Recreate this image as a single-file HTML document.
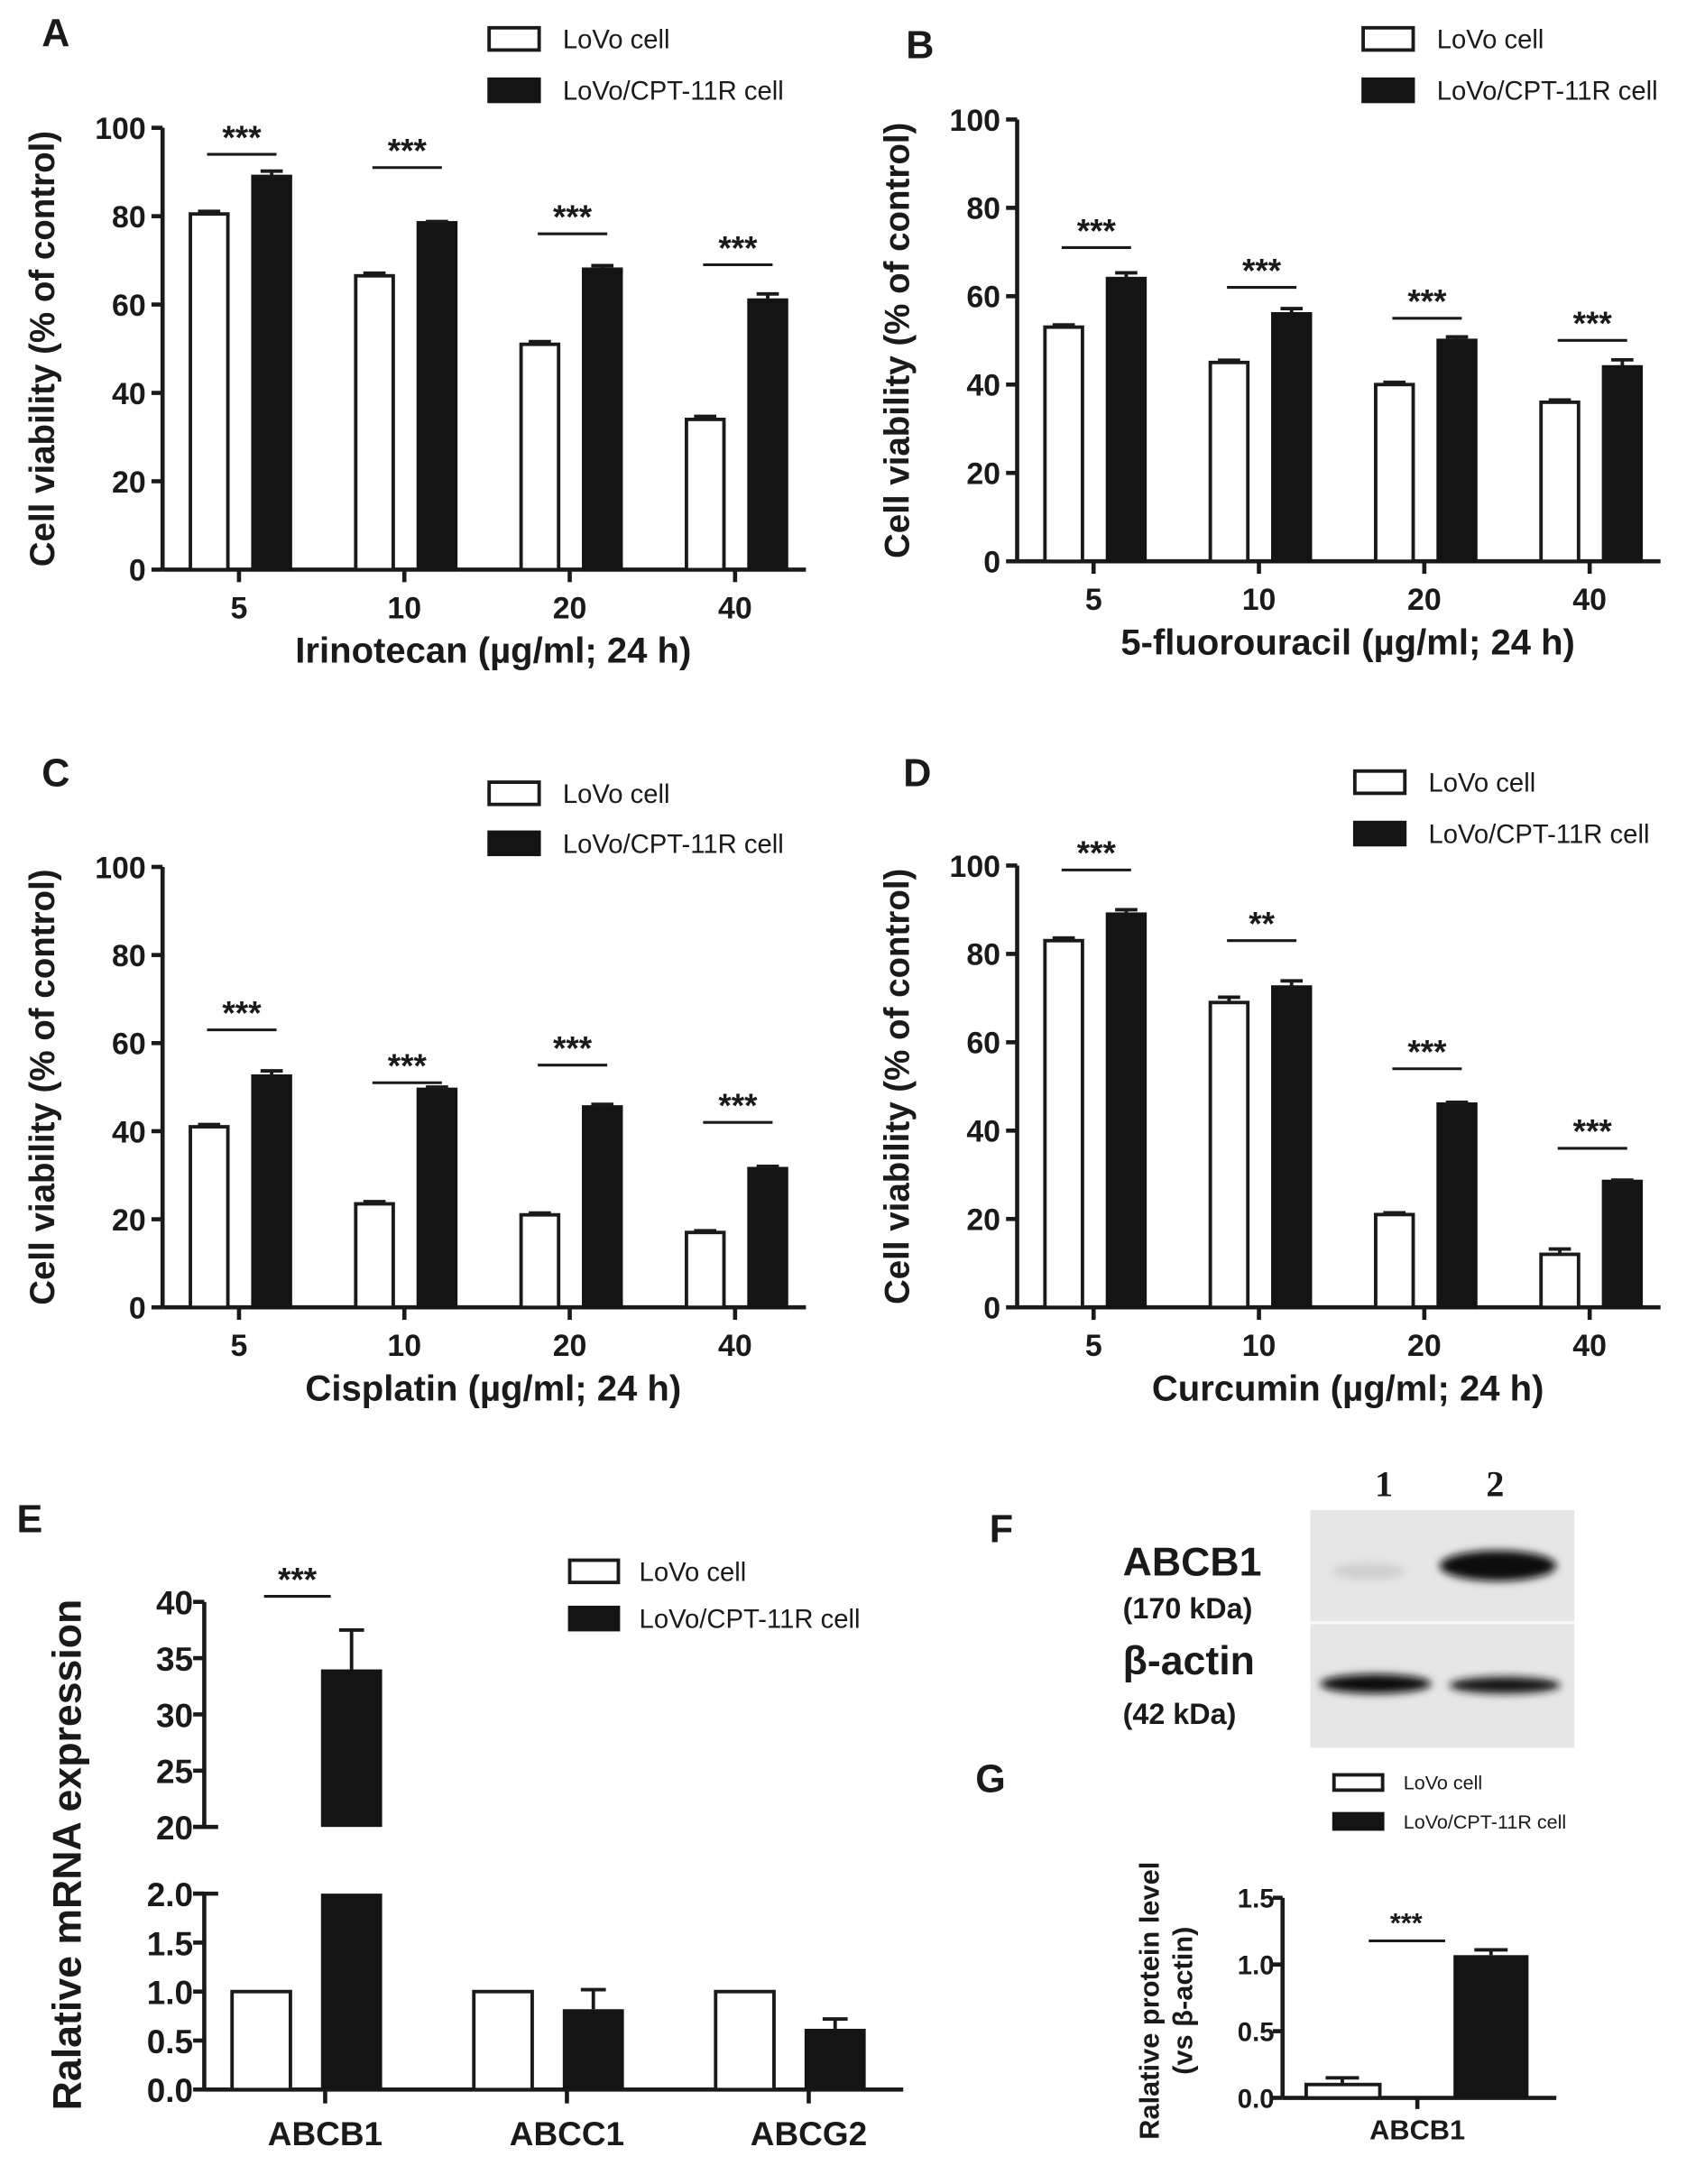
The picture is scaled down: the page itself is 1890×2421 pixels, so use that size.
<!DOCTYPE html>
<html><head><meta charset="utf-8">
<style>
html,body{margin:0;padding:0;background:#fff;}
svg{display:block;}
text{font-family:"Liberation Sans",Arial,sans-serif;fill:#1a1a1a;}
.b{font-weight:bold;}
</style></head>
<body>
<svg id="fig" xmlns="http://www.w3.org/2000/svg" width="1890" height="2421" viewBox="0 0 1227 1572" preserveAspectRatio="none">
<defs>
<filter id="blur" x="-20%" y="-50%" width="140%" height="200%"><feGaussianBlur stdDeviation="3"/></filter>
</defs>
</svg>
<script>
// ---- Data ----
const doseCats = ["5","10","20","40"];
const viabTicks = [0,20,40,60,80,100];
const aLovo = [80.5,66.5,51,34];
const aLovoErr = [0.6,0.6,0.6,0.7];
const aRes = [89,78.5,68,61];
const aResErr = [1.2,0.3,0.8,1.4];
const aSig = ["***","***","***","***"];
const aSigY = [94,91,76,69];
const bLovo = [53,45,40,36];
const bLovoErr = [0.5,0.5,0.5,0.5];
const bRes = [64,56,50,44];
const bResErr = [1.3,1.2,0.8,1.6];
const bSig = ["***","***","***","***"];
const bSigY = [71,62,55,50];
const cLovo = [41,23.5,21,17];
const cLovoErr = [0.5,0.5,0.4,0.4];
const cRes = [52.5,49.5,45.5,31.5];
const cResErr = [1.2,0.5,0.6,0.5];
const cSig = ["***","***","***","***"];
const cSigY = [63,51,55,42];
const dLovo = [83,69,21,12];
const dLovoErr = [0.6,1.2,0.4,1.2];
const dRes = [89,72.5,46,28.5];
const dResErr = [1.0,1.4,0.4,0.3];
const dSig = ["***","**","***","***"];
const dSigY = [99,83,54,36];
const eCats = ["ABCB1","ABCC1","ABCG2"];
const eLovo = [1,1,1];
const eRes = [34,0.82,0.62];
const eResErr = [3.5,0.2,0.1];
const eLowTicks = ["0.0","0.5","1.0","1.5","2.0"];
const eHighTicks = ["20","25","30","35","40"];
const gCats = ["ABCB1"];
const gLovo = [0.1];
const gLovoErr = [0.05];
const gRes = [1.07];
const gResErr = [0.04];
const gTicks = ["0.0","0.5","1.0","1.5"];

const NS = "http://www.w3.org/2000/svg";
const svg = document.getElementById('fig');
function mk(tag, attrs, parent, txt){
  const e = document.createElementNS(NS, tag);
  for (const k in attrs) e.setAttribute(k, attrs[k]);
  if (txt !== undefined) e.textContent = txt;
  (parent||svg).appendChild(e);
  return e;
}

function legend(g, x, y1, y2, bw, bh, fs, tx){
  const l1 = mk('rect',{x:x,y:y1-bh/2,width:bw,height:bh,fill:'#fff',stroke:'#1a1a1a','stroke-width':2.5},g);
  
  
  const t1 = mk('text',{x:tx,y:y1+fs*0.36,'font-size':fs},g,'LoVo cell');
  
  
  const l2 = mk('rect',{x:x,y:y2-bh/2,width:bw,height:bh,fill:'#141414',stroke:'#141414','stroke-width':2.5},g);
  
  
  const t2 = mk('text',{x:tx,y:y2+fs*0.36,'font-size':fs},g,'LoVo/CPT-11R cell');
  
  
}

function errbar(g, cx, ytop, yerr, cap){
  mk('line',{x1:cx,x2:cx,y1:ytop,y2:yerr,stroke:'#1a1a1a','stroke-width':2.5},g);
  mk('line',{x1:cx-cap,x2:cx+cap,y1:yerr,y2:yerr,stroke:'#1a1a1a','stroke-width':2.5},g);
}

function viabPanel(o){
  const g = mk('g',{});
  
  
  const L=o.x0, R=o.x0+463, T=o.yTop, B=o.yBot;
  const ys = v => B - (v/100)*(B-T);
  const step = 119, first = L+55;
  const xs = i => first + i*step;
  const pl = mk('text',{x:o.lx,y:o.ly,'font-size':28,class:'b'},g,o.letter);
  
  
  legend(g, o.legX, o.legY1, o.legY2, 36, 16, 19, o.legX+53);
  mk('line',{x1:L,x2:L,y1:T,y2:B,stroke:'#1a1a1a','stroke-width':3},g);
  mk('line',{x1:L,x2:R,y1:B,y2:B,stroke:'#1a1a1a','stroke-width':3},g);
  viabTicks.forEach(t=>{
    mk('line',{x1:L-8,x2:L,y1:ys(t),y2:ys(t),stroke:'#1a1a1a','stroke-width':3},g);
    const tl = mk('text',{x:L-12,y:ys(t)+8,'font-size':22,'text-anchor':'end',class:'b'},g,String(t));
    
    
  });
  doseCats.forEach((c,i)=>{
    const cx = xs(i);
    mk('line',{x1:cx,x2:cx,y1:B,y2:B+9,stroke:'#1a1a1a','stroke-width':3},g);
    const xl = mk('text',{x:cx,y:B+35,'font-size':22,'text-anchor':'middle',class:'b'},g,c);
    
    
    const wx = cx-35, bx = cx+10;
    const w = mk('rect',{x:wx,y:ys(o.lovo[i]),width:27,height:B-ys(o.lovo[i]),fill:'#fff',stroke:'#1a1a1a','stroke-width':2.5},g);
    
    
    errbar(g, wx+13.5, ys(o.lovo[i]), ys(o.lovo[i]+o.lovoErr[i]), 8);
    const k = mk('rect',{x:bx,y:ys(o.res[i]),width:27,height:B-ys(o.res[i]),fill:'#141414',stroke:'#141414','stroke-width':2.5},g);
    
    
    errbar(g, bx+13.5, ys(o.res[i]), ys(o.res[i]+o.resErr[i]), 8);
    const sy = ys(o.sigY[i]);
    mk('line',{x1:wx+12,x2:wx+62,y1:sy,y2:sy,stroke:'#1a1a1a','stroke-width':2},g);
    const st = mk('text',{x:wx+37,y:sy-4,'font-size':24,'text-anchor':'middle',class:'b'},g,o.sig[i]);
    
    
  });
  const yt = mk('text',{x:0,y:0,'font-size':25,'text-anchor':'middle',class:'b',transform:`translate(${L-78},${(T+B)/2}) rotate(-90)`},g,'Cell viability (% of control)');
  
  
  const xt = mk('text',{x:L+238,y:B+67,'font-size':26,'text-anchor':'middle',class:'b'},g,o.xtitle);
  
  
}

viabPanel({name:'panel-a-irinotecan',letter:'A',lx:30,ly:33,legX:352,legY1:28,legY2:65,x0:117,yTop:92,yBot:410,lovo:aLovo,lovoErr:aLovoErr,res:aRes,resErr:aResErr,sig:aSig,sigY:aSigY,xtitle:'Irinotecan  (µg/ml; 24 h)'});
viabPanel({name:'panel-b-5fu',letter:'B',lx:652,ly:42,legX:981,legY1:28,legY2:65,x0:732,yTop:86,yBot:404,lovo:bLovo,lovoErr:bLovoErr,res:bRes,resErr:bResErr,sig:bSig,sigY:bSigY,xtitle:'5-fluorouracil  (µg/ml; 24 h)'});
viabPanel({name:'panel-c-cisplatin',letter:'C',lx:30,ly:566,legX:352,legY1:571,legY2:607,x0:117,yTop:624,yBot:941,lovo:cLovo,lovoErr:cLovoErr,res:cRes,resErr:cResErr,sig:cSig,sigY:cSigY,xtitle:'Cisplatin  (µg/ml; 24 h)'});
viabPanel({name:'panel-d-curcumin',letter:'D',lx:650,ly:566,legX:975,legY1:563,legY2:600,x0:732,yTop:623,yBot:941,lovo:dLovo,lovoErr:dLovoErr,res:dRes,resErr:dResErr,sig:dSig,sigY:dSigY,xtitle:'Curcumin  (µg/ml; 24 h)'});

// ---- Panel E ----
(function(){
  const g = mk('g',{});
  
  
  const L=147, R=650, B=1504, lowT=1363, hiT=1153, hiB=1315;
  const yLow = v => B - (v/2)*(B-lowT);
  const yHigh = v => hiB - ((v-20)/20)*(hiB-hiT);
  const xs = i => 234 + i*174;
  const pl = mk('text',{x:12,y:1103,'font-size':28,class:'b'},g,'E');
  
  
  legend(g, 410, 1131, 1165, 35, 16, 19, 460);
  mk('line',{x1:L,x2:L,y1:hiT,y2:hiB,stroke:'#1a1a1a','stroke-width':3},g);
  mk('line',{x1:L,x2:L,y1:lowT,y2:B,stroke:'#1a1a1a','stroke-width':3},g);
  mk('line',{x1:L,x2:R,y1:B,y2:B,stroke:'#1a1a1a','stroke-width':3},g);
  mk('line',{x1:L-8,x2:L+10,y1:hiB,y2:hiB,stroke:'#1a1a1a','stroke-width':3},g);
  mk('line',{x1:L-8,x2:L+10,y1:lowT,y2:lowT,stroke:'#1a1a1a','stroke-width':3},g);
  eLowTicks.forEach(t=>{
    const y = yLow(parseFloat(t));
    mk('line',{x1:L-8,x2:L,y1:y,y2:y,stroke:'#1a1a1a','stroke-width':3},g);
    const tl = mk('text',{x:L-8,y:y+9,'font-size':24,'text-anchor':'end',class:'b'},g,t);
    
    
  });
  eHighTicks.forEach(t=>{
    const y = yHigh(parseFloat(t));
    mk('line',{x1:L-8,x2:L,y1:y,y2:y,stroke:'#1a1a1a','stroke-width':3},g);
    const tl = mk('text',{x:L-8,y:y+9,'font-size':24,'text-anchor':'end',class:'b'},g,t);
    
    
  });
  eCats.forEach((c,i)=>{
    const cx = xs(i);
    mk('line',{x1:cx,x2:cx,y1:B,y2:B+10,stroke:'#1a1a1a','stroke-width':3},g);
    const xl = mk('text',{x:cx,y:B+40,'font-size':24,'text-anchor':'middle',class:'b'},g,c);
    
    
    const wx = cx-67, bx = cx-3;
    const w = mk('rect',{x:wx,y:yLow(eLovo[i]),width:42,height:B-yLow(eLovo[i]),fill:'#fff',stroke:'#1a1a1a','stroke-width':2.5},g);
    
    
    const v = eRes[i];
    if (v > 2){
      const k1 = mk('rect',{x:bx,y:lowT,width:44,height:B-lowT,fill:'#141414'},g);
      
      
      const k2 = mk('rect',{x:bx,y:yHigh(v),width:44,height:hiB-yHigh(v),fill:'#141414'},g);
      
      
      errbar(g, bx+22, yHigh(v), yHigh(v+eResErr[i]), 9);
    } else {
      const k = mk('rect',{x:bx,y:yLow(v),width:44,height:B-yLow(v),fill:'#141414'},g);
      
      
      errbar(g, bx+22, yLow(v), yLow(v+eResErr[i]), 9);
    }
  });
  mk('line',{x1:190,x2:238,y1:1149,y2:1149,stroke:'#1a1a1a','stroke-width':2},g);
  const st = mk('text',{x:214,y:1145,'font-size':24,'text-anchor':'middle',class:'b'},g,'***');
  
  
  const yt = mk('text',{x:0,y:0,'font-size':29,'text-anchor':'middle',class:'b',transform:'translate(58,1335) rotate(-90)'},g,'Ralative mRNA expression');
  
  
})();

// ---- Panel F (western blot) ----
(function(){
  const g = mk('g',{});
  
  
  const pl = mk('text',{x:712,y:1110,'font-size':28,class:'b'},g,'F');
  
  
  mk('rect',{x:943,y:1087,width:190,height:171,fill:'#e6e6e6'},g);
  mk('line',{x1:943,x2:1133,y1:1168,y2:1168,stroke:'#fafafa','stroke-width':2},g);
  mk('ellipse',{cx:985,cy:1131,rx:26,ry:6,fill:'#cfcfcf',filter:'url(#blur)'},g);
  const b1 = mk('ellipse',{cx:1078,cy:1127,rx:42,ry:11,fill:'#0d0d0d',filter:'url(#blur)'},g);
  
  
  mk('ellipse',{cx:990,cy:1212,rx:40,ry:7,fill:'#0d0d0d',filter:'url(#blur)'},g);
  mk('ellipse',{cx:1083,cy:1213,rx:40,ry:6,fill:'#141414',filter:'url(#blur)'},g);
  [['1',996],['2',1076]].forEach(([t,x])=>{
    const e = mk('text',{x:x,y:1077,'font-size':26,'text-anchor':'middle',class:'b',style:'font-family:"Liberation Serif",serif'},g,t);
    
    
  });
  [['ABCB1',1134,29],['(170 kDa)',1165,21],['β-actin',1205,29],['(42 kDa)',1241,21]].forEach(([t,y,fs])=>{
    const e = mk('text',{x:808,y:y,'font-size':fs,class:'b'},g,t);
    
    
  });
})();

// ---- Panel G ----
(function(){
  const g = mk('g',{});
  
  
  const pl = mk('text',{x:702,y:1290,'font-size':28,class:'b'},g,'G');
  
  
  legend(g, 960, 1283, 1311, 35, 11, 14, 1010);
  const L=923, R=1120, B=1510, T=1366;
  const ys = v => B - (v/1.5)*(B-T);
  mk('line',{x1:L,x2:L,y1:T,y2:B,stroke:'#1a1a1a','stroke-width':3},g);
  mk('line',{x1:L,x2:R,y1:B,y2:B,stroke:'#1a1a1a','stroke-width':3},g);
  gTicks.forEach(t=>{
    const y = ys(parseFloat(t));
    mk('line',{x1:L-7,x2:L,y1:y,y2:y,stroke:'#1a1a1a','stroke-width':3},g);
    const tl = mk('text',{x:L-6,y:y+7,'font-size':19,'text-anchor':'end',class:'b'},g,t);
    
    
  });
  gCats.forEach((c,i)=>{
    const cx = 1020;
    mk('line',{x1:cx,x2:cx,y1:B,y2:B+8,stroke:'#1a1a1a','stroke-width':3},g);
    const xl = mk('text',{x:cx,y:B+30,'font-size':20,'text-anchor':'middle',class:'b'},g,c);
    
    
    const w = mk('rect',{x:940,y:ys(gLovo[i]),width:53,height:B-ys(gLovo[i]),fill:'#fff',stroke:'#1a1a1a','stroke-width':2.5},g);
    
    
    errbar(g, 966, ys(gLovo[i]), ys(gLovo[i]+gLovoErr[i]), 12);
    const k = mk('rect',{x:1046,y:ys(gRes[i]),width:54,height:B-ys(gRes[i]),fill:'#141414'},g);
    
    
    errbar(g, 1073, ys(gRes[i]), ys(gRes[i]+gResErr[i]), 12);
  });
  mk('line',{x1:985,x2:1040,y1:1397,y2:1397,stroke:'#1a1a1a','stroke-width':2},g);
  const st = mk('text',{x:1012,y:1391,'font-size':20,'text-anchor':'middle',class:'b'},g,'***');
  
  
  const yt = mk('text',{x:0,y:0,'font-size':20,'text-anchor':'middle',class:'b',transform:'translate(834,1440) rotate(-90)'},g,'Ralative protein level');
  
  
  const yt2 = mk('text',{x:0,y:0,'font-size':20,'text-anchor':'middle',class:'b',transform:'translate(858,1440) rotate(-90)'},g,'(vs β-actin)');
  
  
})();
</script>
</body></html>
